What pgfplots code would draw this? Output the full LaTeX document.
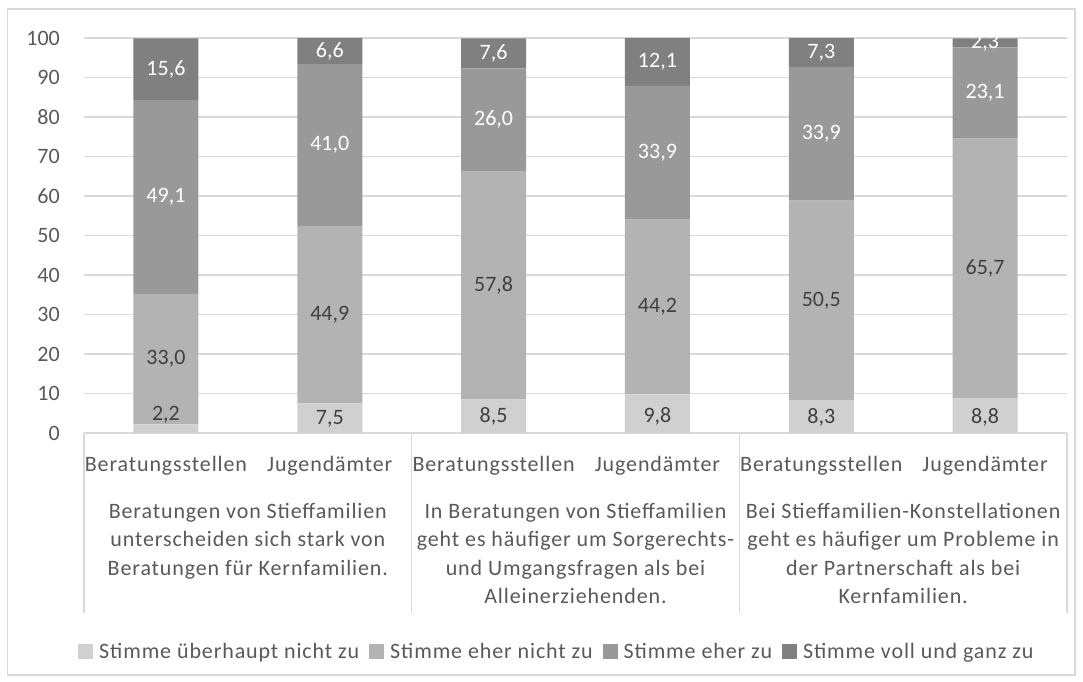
\documentclass[border=0pt]{standalone}
\usepackage{fontspec}
\setmainfont{Carlito}
\newfontfamily\widecarlito[LetterSpace=4]{Carlito}
\usepackage{pgfplots}
\pgfplotsset{compat=1.18}
\usepackage{pgfplotstable}

\definecolor{sOne}{HTML}{D0D0D0}
\definecolor{sTwo}{HTML}{B3B3B3}
\definecolor{sThree}{HTML}{999999}
\definecolor{sFour}{HTML}{808080}
\definecolor{gridgray}{HTML}{D9D9D9}
\definecolor{txtgray}{HTML}{595959}
\definecolor{lblgray}{HTML}{404040}

\newcommand{\numfont}{\fontsize{22bp}{28.5bp}\selectfont}
\newcommand{\txtfont}{\widecarlito\fontsize{22bp}{28.5bp}\selectfont}

% shares
\pgfplotstableread{
x s1 s2 s3 s4
0 2.2 33.0 49.1 15.6
1 7.5 44.9 41.0 6.6
2 8.5 57.8 26.0 7.6
3 9.8 44.2 33.9 12.1
4 8.3 50.5 33.9 7.3
5 8.8 65.7 23.1 2.3
}\datatable

% label positions (segment middles)
\pgfplotstableread{
x y1 l1 y2 l2 y3 l3 y4 l4
0 4.6 2,2 18.7 33,0 59.75 49,1 92.1 15,6
1 3.6 7,5 29.95 44,9 72.9 41,0 96.7 6,6
2 4.1 8,5 37.4 57,8 79.3 26,0 96.1 7,6
3 4.3 9,8 31.9 44,2 70.95 33,9 93.95 12,1
4 4.0 8,3 33.55 50,5 75.75 33,9 96.35 7,3
5 4.0 8,8 41.65 65,7 86.05 23,1 98.75 2,3
}\labeltable

\pgfplotsset{
  common/.style={
    at={(84bp,249bp)}, anchor=south west,
    scale only axis, width=983bp, height=395bp,
    xmin=-0.5, xmax=5.5, ymin=0, ymax=100,
  },
  lbl/.style={draw=none, nodes near coords, point meta=explicit symbolic,
    nodes near coords align={center},
    every node near coord/.append style={font=\numfont, text=#1, anchor=center}},
}

\begin{document}
\begin{tikzpicture}[x=1bp,y=1bp]
\path[use as bounding box] (0,0) rectangle (1083,682);
\draw[gridgray, line width=1.2bp] (7.5,7) rectangle (1075,673);

\begin{axis}[common,
  ybar stacked, bar width=65bp,
  axis line style={draw=none},
  ymajorgrids, grid style={gridgray, line width=1.2bp},
  ytick={0,10,...,100},
  xtick={0,...,5},
  xticklabels={Beratungsstellen,Jugendämter,Beratungsstellen,Jugendämter,Beratungsstellen,Jugendämter},
  minor xtick={-0.5,1.5,3.5,5.5},
  tick pos=left, tick align=outside,
  major tick length=0pt, minor tick length=180bp,
  tick style={gridgray, line width=1.2bp},
  ticklabel style={text=txtgray},
  yticklabel style={font=\numfont, anchor=east, inner sep=0pt, xshift=-24bp},
  xticklabel style={font=\txtfont, anchor=base, inner sep=0pt, yshift=-39bp},
  /pgf/number format/assume math mode=true,
  extra x ticks={0.5,2.5,4.5},
  extra x tick labels={{Beratungen von Stieffamilien\\unterscheiden sich stark von\\Beratungen für Kernfamilien.},{In Beratungen von Stieffamilien\\geht es häufiger um Sorgerechts-\\und Umgangsfragen als bei\\Alleinerziehenden.},{Bei Stieffamilien-Konstellationen\\geht es häufiger um Probleme in\\der Partnerschaft als bei\\Kernfamilien.}},
  extra x tick style={grid=none, major tick length=0pt,
    xticklabel style={anchor=north, yshift=-31bp, align=center}},
  legend style={at={(0.481,-0.553)}, anchor=center, draw=none, fill=none,
    font=\txtfont, text=txtgray, legend columns=4,
    /tikz/every even column/.append style={column sep=8bp}},
  legend image code/.code={\fill[#1] (0bp,-7.5bp) rectangle (15bp,7.5bp);
    \path (15bp,0bp) -- (19bp,0bp);},
]
\addplot[fill=sOne, draw=none] table[x=x, y=s1] {\datatable};
\addplot[fill=sTwo, draw=none] table[x=x, y=s2] {\datatable};
\addplot[fill=sThree, draw=none] table[x=x, y=s3] {\datatable};
\addplot[fill=sFour, draw=none] table[x=x, y=s4] {\datatable};
\legend{Stimme überhaupt nicht zu, Stimme eher nicht zu, Stimme eher zu, Stimme voll und ganz zu}
\end{axis}

\begin{axis}[common, hide axis]
\addplot[lbl=lblgray] table[x=x, y=y1, meta=l1] {\labeltable};
\addplot[lbl=lblgray] table[x=x, y=y2, meta=l2] {\labeltable};
\addplot[lbl=white] table[x=x, y=y3, meta=l3] {\labeltable};
\addplot[lbl=white] table[x=x, y=y4, meta=l4] {\labeltable};
\end{axis}
\end{tikzpicture}
\end{document}
